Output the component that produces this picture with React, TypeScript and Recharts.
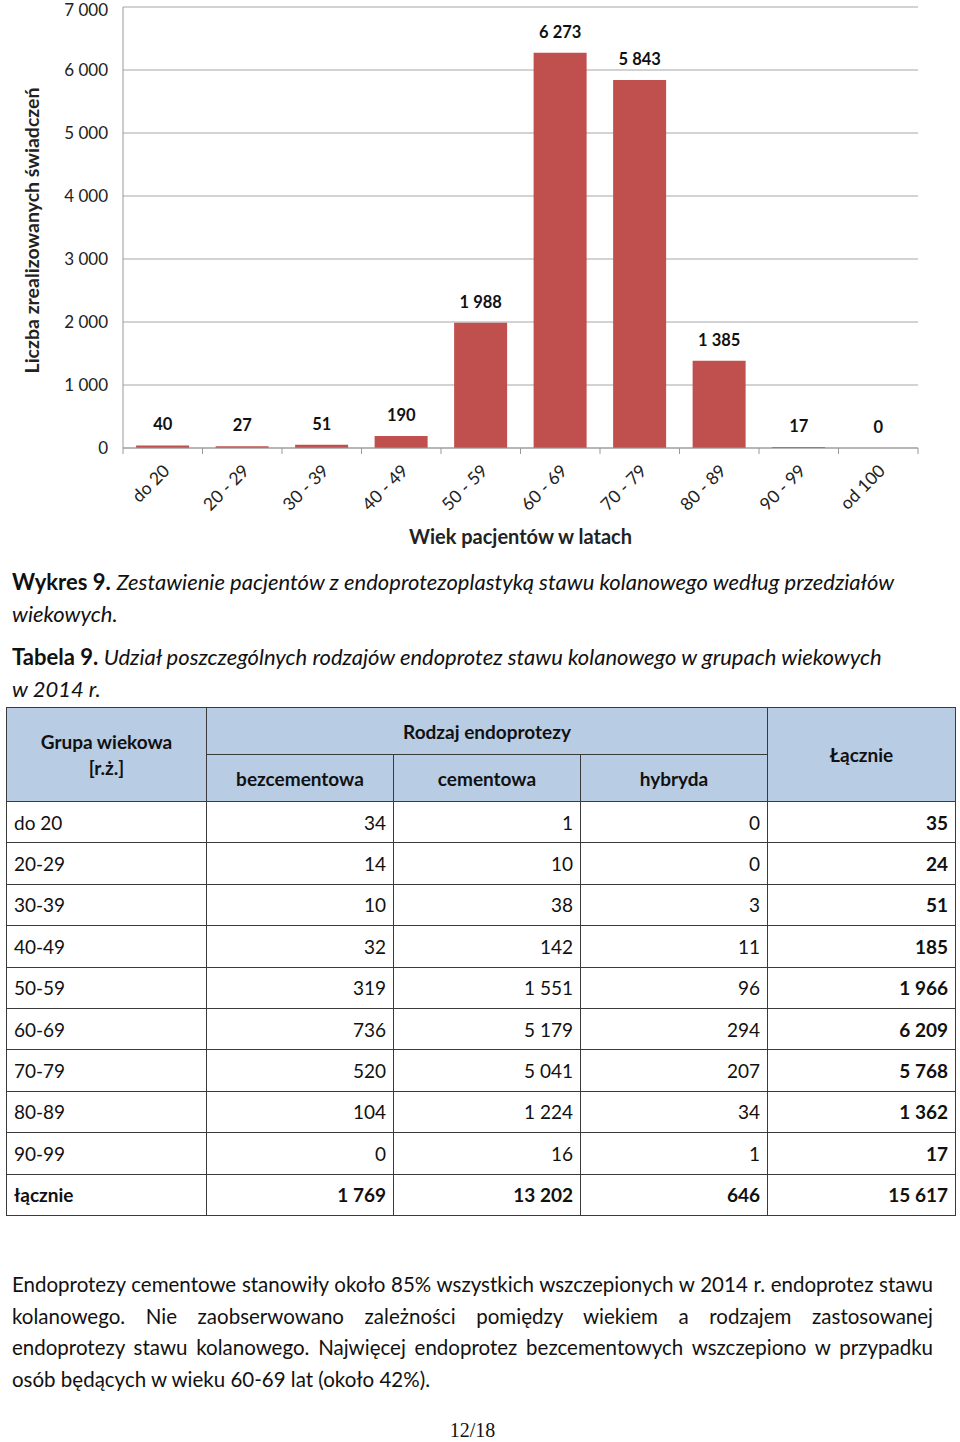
import React from 'react';
import { ComposedChart, Bar, Line, XAxis, YAxis, CartesianGrid, LabelList } from 'recharts';

const ageGroups = ['do 20', '20 - 29', '30 - 39', '40 - 49', '50 - 59', '60 - 69', '70 - 79', '80 - 89', '90 - 99', 'od 100'];
const patientCounts = [40, 27, 51, 190, 1988, 6273, 5843, 1385, 17, 0];
const yTicks = [0, 1000, 2000, 3000, 4000, 5000, 6000, 7000];

const tableGroups = ['do 20', '20-29', '30-39', '40-49', '50-59', '60-69', '70-79', '80-89', '90-99', 'łącznie'];
const cementless = ['34', '14', '10', '32', '319', '736', '520', '104', '0', '1 769'];
const cemented = ['1', '10', '38', '142', '1 551', '5 179', '5 041', '1 224', '16', '13 202'];
const hybrid = ['0', '0', '3', '11', '96', '294', '207', '34', '1', '646'];
const totals = ['35', '24', '51', '185', '1 966', '6 209', '5 768', '1 362', '17', '15 617'];

const chartData = ageGroups.map((name, i) => ({ name, value: patientCounts[i] }));

const FONT = 'Lato, "Open Sans", sans-serif';
const fmt = (n: number) => String(n).replace(/\B(?=(\d{3})+(?!\d))/g, ' ');

const PLOT_LEFT = 123;
const PLOT_RIGHT = 918;
const STEP = (PLOT_RIGHT - PLOT_LEFT) / ageGroups.length;

const AgeTick = (props: any) => {
  const { x, y, payload, index } = props;
  const left = x - STEP / 2;
  const tx = x + 8;
  const ty = y + 16;
  return (
    <g>
      <line x1={left} y1={y - 8} x2={left} y2={y - 2} stroke="#999" />
      {index === ageGroups.length - 1 && (
        <line x1={x + STEP / 2} y1={y - 8} x2={x + STEP / 2} y2={y - 2} stroke="#999" />
      )}
      <text
        x={tx}
        y={ty}
        transform={`rotate(-45 ${tx} ${ty})`}
        textAnchor="end"
        fontFamily={FONT}
        fontSize={17.5}
        fill="#222"
      >
        {payload.value}
      </text>
    </g>
  );
};

const cell: React.CSSProperties = {
  border: '1.5px solid #3a3a3a',
  padding: '0 7px',
  height: 40.4,
  fontSize: 19,
  color: '#111',
  verticalAlign: 'middle',
};

const head: React.CSSProperties = {
  ...cell,
  padding: 0,
  background: '#B8CCE4',
  fontWeight: 700,
  textAlign: 'center',
  height: 46,
};

const paragraphLines = [
  'Endoprotezy cementowe stanowiły około 85% wszystkich wszczepionych w 2014 r. endoprotez stawu',
  'kolanowego. Nie zaobserwowano zależności pomiędzy wiekiem a rodzajem zastosowanej',
  'endoprotezy stawu kolanowego. Najwięcej endoprotez bezcementowych wszczepiono w przypadku',
  'osób będących w wieku 60-69 lat (około 42%).',
];

export default function App() {
  return (
    <div style={{ position: 'relative', width: 960, height: 1442, background: '#fff', fontFamily: FONT }}>
      <style>{'body{margin:0}'}</style>
      <div style={{ position: 'absolute', left: 0, top: 0 }}>
        <ComposedChart width={960} height={548} data={chartData} margin={{ top: 7, right: 42, left: 0, bottom: 0 }} barCategoryGap="16.5%">
          <CartesianGrid vertical={false} stroke="#a6a6a6" />
          <XAxis
            dataKey="name"
            axisLine={{ stroke: '#999' }}
            tickLine={false}
            tick={<AgeTick />}
            interval={0}
            height={100}
            label={({ viewBox }: any) => (
              <text
                x={viewBox.x + viewBox.width / 2}
                y={viewBox.y + 96}
                textAnchor="middle"
                fontFamily={FONT}
                fontWeight={700}
                fontSize={20}
                fill="#222"
              >
                Wiek pacjentów w latach
              </text>
            )}
          />
          <YAxis
            width={PLOT_LEFT}
            domain={[0, 7000]}
            ticks={yTicks}
            tickFormatter={fmt}
            axisLine={{ stroke: '#999' }}
            tickLine={false}
            tickSize={0}
            tickMargin={15}
            tick={{ fontFamily: FONT, fontSize: 17, fill: '#222' }}
            label={({ viewBox }: any) => {
              const cx = 31;
              const cy = viewBox.y + viewBox.height / 2 + 3;
              return (
                <text
                  x={cx}
                  y={cy}
                  transform={`rotate(-90 ${cx} ${cy})`}
                  textAnchor="middle"
                  dominantBaseline="central"
                  fontFamily={FONT}
                  fontWeight={700}
                  fontSize={19.5}
                  fill="#222"
                >
                  Liczba zrealizowanych świadczeń
                </text>
              );
            }}
          />
          <Bar dataKey="value" fill="#C0504D" isAnimationActive={false} />
          <Line dataKey="value" stroke="none" dot={false} activeDot={false} isAnimationActive={false} legendType="none">
            <LabelList
              dataKey="value"
              position="top"
              offset={15}
              formatter={(v: any) => fmt(Number(v))}
              style={{ fontFamily: FONT, fontWeight: 700, fontSize: 16.5, fill: '#111' }}
            />
          </Line>
        </ComposedChart>
      </div>

      <div style={{ position: 'absolute', left: 12, top: 566, width: 940, fontSize: 22, lineHeight: '32px', color: '#111' }}>
        <div>
          <b>Wykres 9.</b> <i>Zestawienie pacjentów z endoprotezoplastyką stawu kolanowego według przedziałów</i>
        </div>
        <div><i>wiekowych.</i></div>
        <div style={{ marginTop: 11 }}>
          <b>Tabela 9.</b> <i>Udział poszczególnych rodzajów endoprotez stawu kolanowego w grupach wiekowych</i>
        </div>
        <div><i>w 2014 r.</i></div>
      </div>

      <table style={{ position: 'absolute', left: 6, top: 707, width: 949, borderCollapse: 'collapse', tableLayout: 'fixed', fontFamily: FONT }}>
        <colgroup>
          <col style={{ width: 200 }} />
          <col style={{ width: 187 }} />
          <col style={{ width: 187 }} />
          <col style={{ width: 187 }} />
          <col style={{ width: 188 }} />
        </colgroup>
        <thead>
          <tr>
            <th rowSpan={2} style={{ ...head, lineHeight: '26px' }}>Grupa wiekowa<br />[r.ż.]</th>
            <th colSpan={3} style={head}>Rodzaj endoprotezy</th>
            <th rowSpan={2} style={head}>Łącznie</th>
          </tr>
          <tr>
            <th style={head}>bezcementowa</th>
            <th style={head}>cementowa</th>
            <th style={head}>hybryda</th>
          </tr>
        </thead>
        <tbody>
          {tableGroups.map((g, i) => {
            const last = i === tableGroups.length - 1;
            const w = last ? 700 : 400;
            return (
              <tr key={g}>
                <td style={{ ...cell, fontWeight: w }}>{g}</td>
                <td style={{ ...cell, textAlign: 'right', fontWeight: w }}>{cementless[i]}</td>
                <td style={{ ...cell, textAlign: 'right', fontWeight: w }}>{cemented[i]}</td>
                <td style={{ ...cell, textAlign: 'right', fontWeight: w }}>{hybrid[i]}</td>
                <td style={{ ...cell, textAlign: 'right', fontWeight: 700 }}>{totals[i]}</td>
              </tr>
            );
          })}
        </tbody>
      </table>

      <div style={{ position: 'absolute', left: 12, top: 1269, width: 921, fontSize: 20.5, lineHeight: '31.7px', color: '#111' }}>
        {paragraphLines.map((line, i) => (
          <div
            key={line}
            style={i < paragraphLines.length - 1 ? { textAlign: 'justify', textAlignLast: 'justify', whiteSpace: 'nowrap' } : { whiteSpace: 'nowrap' }}
          >
            {line}
          </div>
        ))}
      </div>

      <div style={{ position: 'absolute', left: 0, width: 945, top: 1422, height: 16, lineHeight: '16px', textAlign: 'center', fontFamily: '"Liberation Serif", serif', fontSize: 20, color: '#111' }}>
        12/18
      </div>
    </div>
  );
}
